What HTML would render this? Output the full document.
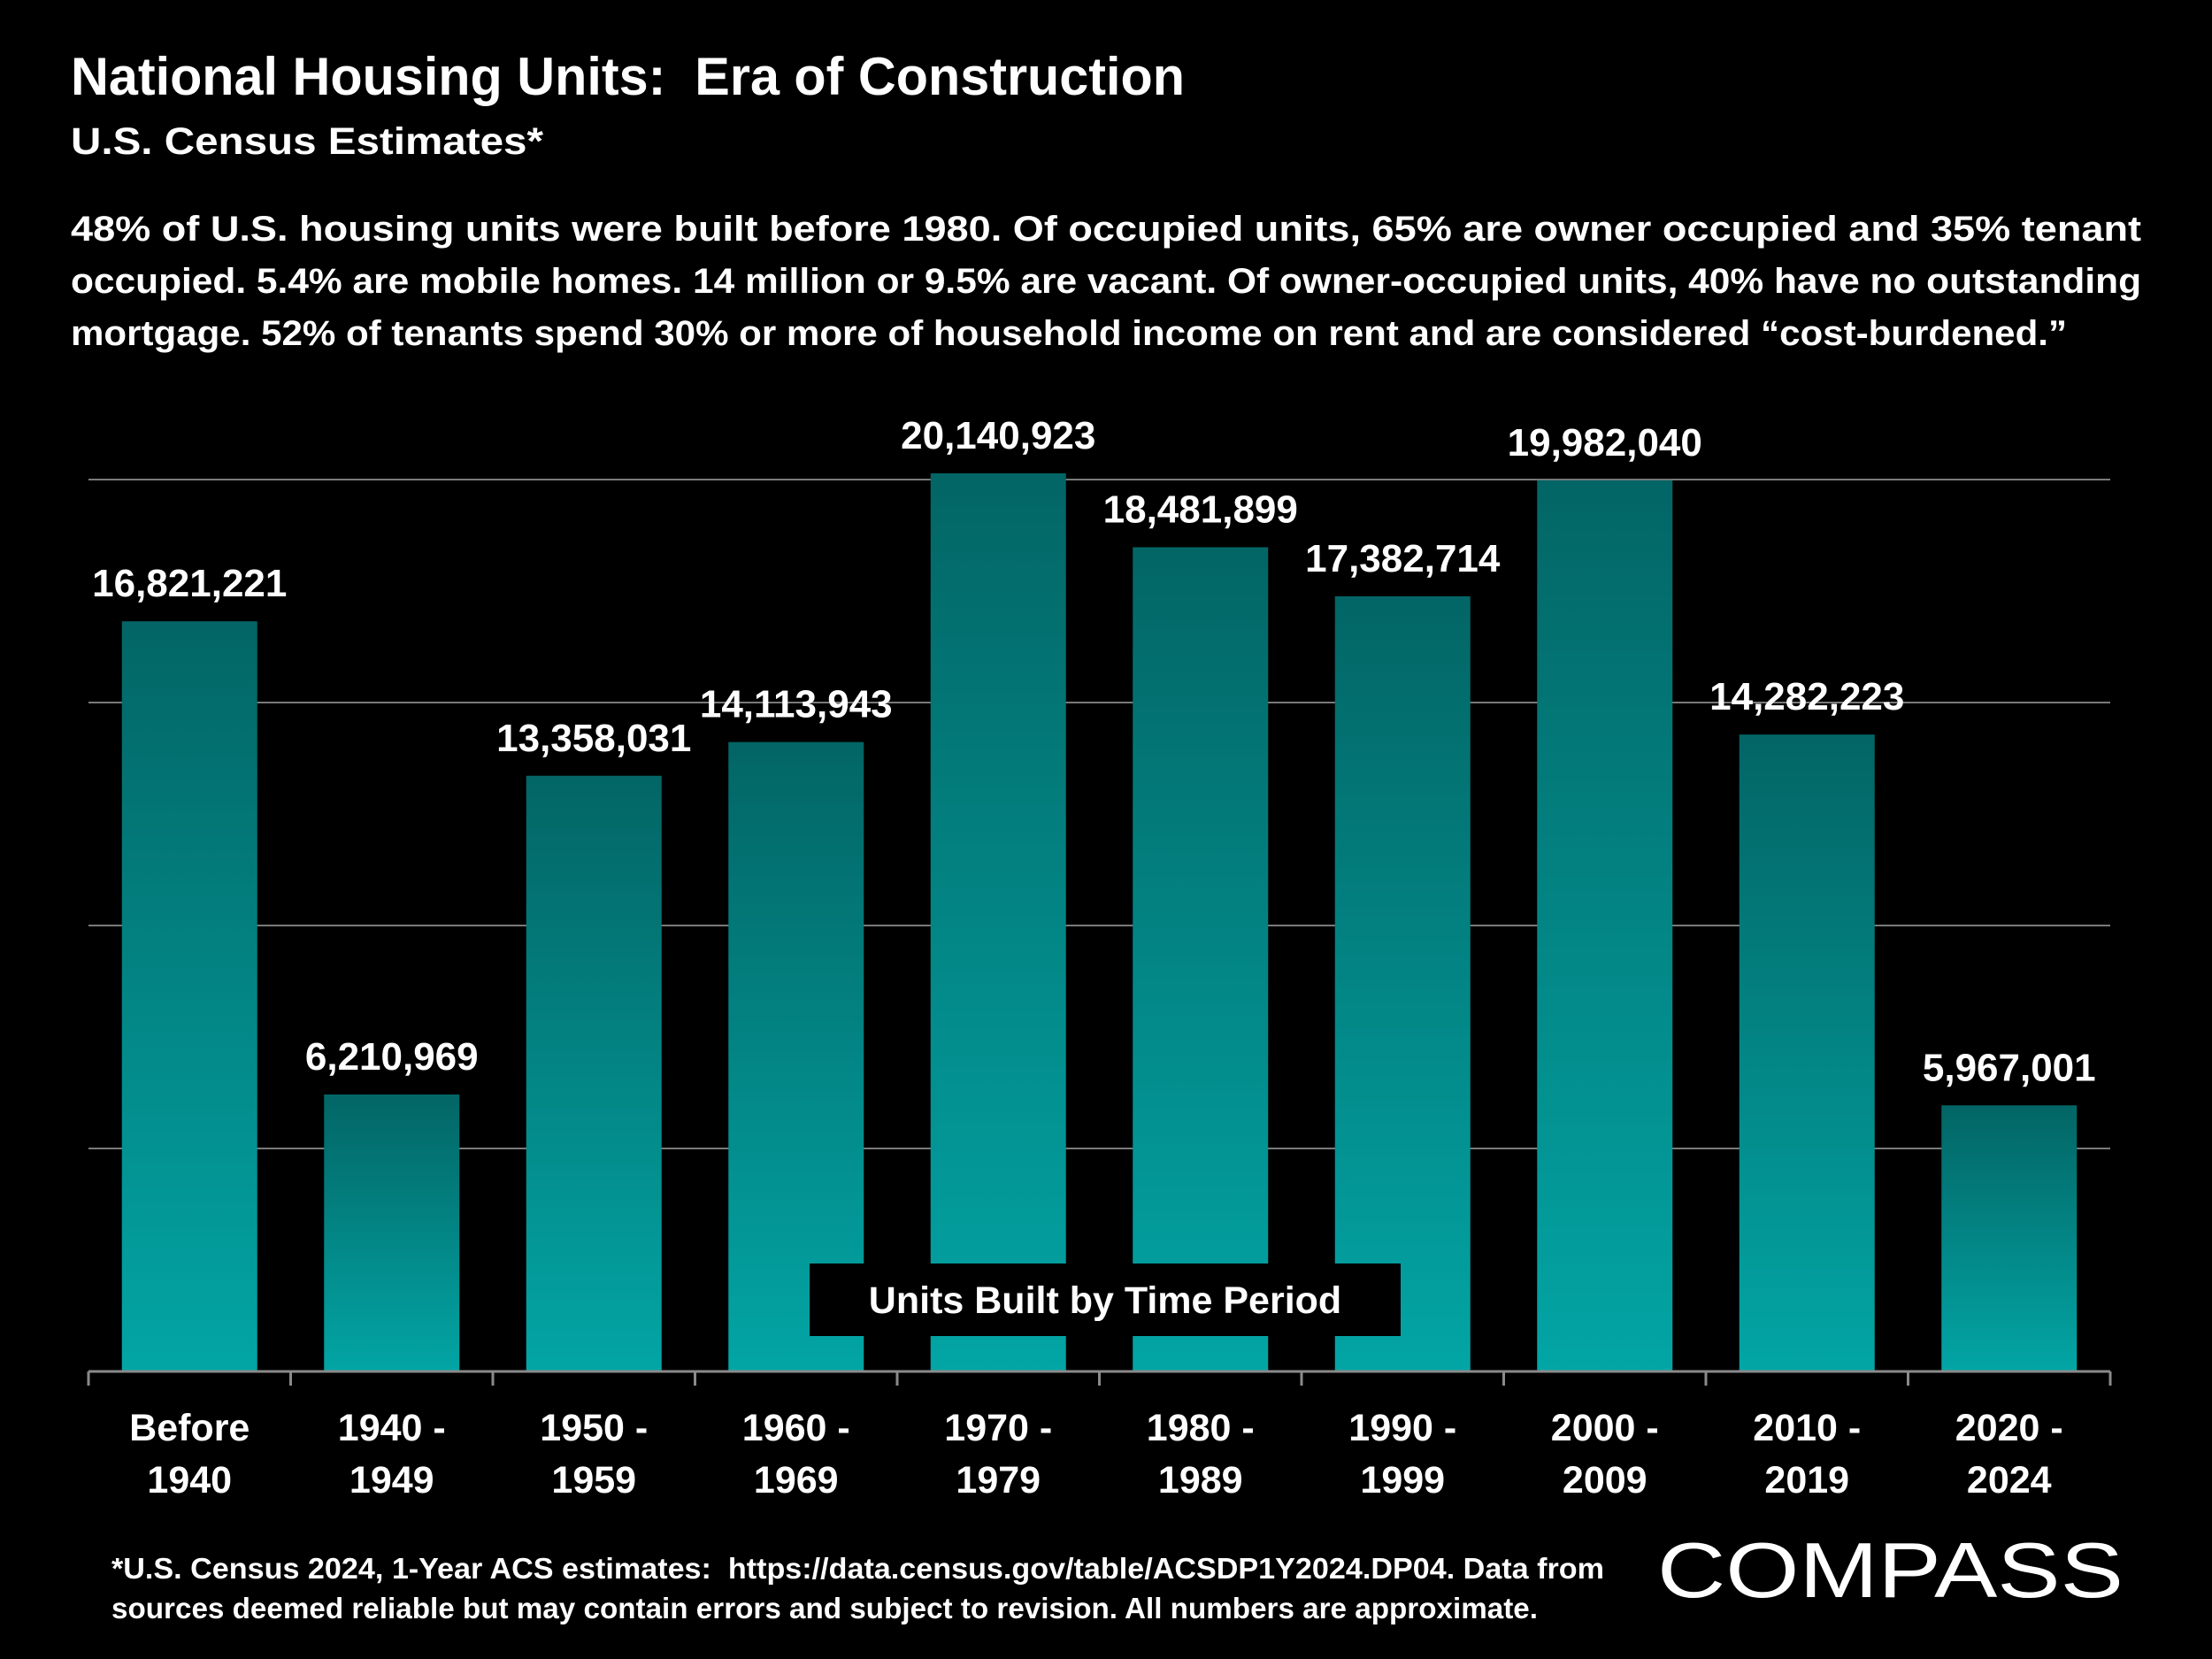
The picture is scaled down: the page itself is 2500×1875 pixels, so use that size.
<!DOCTYPE html>
<html><head><meta charset="utf-8"><style>
html,body{margin:0;padding:0;background:#000;}
svg{display:block;font-family:"Liberation Sans",sans-serif;font-weight:bold;}
</style></head><body>
<svg id="chart" width="2500" height="1875" viewBox="0 0 2500 1875" xmlns="http://www.w3.org/2000/svg">
<defs><linearGradient id="barGrad" x1="0" y1="0" x2="0" y2="1"><stop offset="0" stop-color="#036565"/><stop offset="1" stop-color="#03a5a5"/></linearGradient></defs>
<rect width="2500" height="1875" fill="#000"/>
<text x="80" y="107" fill="#fff" font-size="60" textLength="1259" lengthAdjust="spacingAndGlyphs">National Housing Units:&#160; Era of Construction</text>
<text x="80" y="174" fill="#fff" font-size="43" textLength="534" lengthAdjust="spacingAndGlyphs">U.S. Census Estimates*</text>
<g fill="#fff" font-size="40">
<text x="80" y="272" textLength="2340" lengthAdjust="spacingAndGlyphs">48% of U.S. housing units were built before 1980. Of occupied units, 65% are owner occupied and 35% tenant</text>
<text x="80" y="331" textLength="2340" lengthAdjust="spacingAndGlyphs">occupied. 5.4% are mobile homes. 14 million or 9.5% are vacant. Of owner-occupied units, 40% have no outstanding</text>
<text x="80" y="390" textLength="2256" lengthAdjust="spacingAndGlyphs">mortgage. 52% of tenants spend 30% or more of household income on rent and are considered “cost-burdened.”</text>
</g>
<g id="grid"></g>
<g id="bars"></g>
<g id="labels"></g>
<g id="axis"></g>
<rect x="915" y="1428" width="668" height="82" fill="#000"/>
<text x="1249" y="1484" fill="#fff" font-size="43" text-anchor="middle">Units Built by Time Period</text>
<g fill="#fff" font-size="33">
<text x="126" y="1784" textLength="1687" lengthAdjust="spacingAndGlyphs">*U.S. Census 2024, 1-Year ACS estimates:&#160; https://data.census.gov/table/ACSDP1Y2024.DP04. Data from</text>
<text x="126" y="1829" textLength="1612" lengthAdjust="spacingAndGlyphs">sources deemed reliable but may contain errors and subject to revision. All numbers are approximate.</text>
</g>
<text x="1873" y="1805" fill="#fff" font-size="88" font-weight="normal" textLength="527" lengthAdjust="spacingAndGlyphs">COMPASS</text>
</svg>
<script>
const categoriesLine1 = ["Before","1940 -","1950 -","1960 -","1970 -","1980 -","1990 -","2000 -","2010 -","2020 -"];
const categoriesLine2 = ["1940","1949","1959","1969","1979","1989","1999","2009","2019","2024"];
const unitValues = [16821221,6210969,13358031,14113943,20140923,18481899,17382714,19982040,14282223,5967001];
const gridTicks = [5000000,10000000,15000000,20000000];

const NS="http://www.w3.org/2000/svg";
const x0=100,x1=2385,yBase=1550,yMax=20000000,yTop=542;
const band=(x1-x0)/categoriesLine1.length, barW=153;
const yScale=v=>yBase-(v/yMax)*(yBase-yTop);
const xCenter=i=>x0+band*(i+0.5);
function mk(tag,attrs,parent){const e=document.createElementNS(NS,tag);for(const k in attrs)e.setAttribute(k,attrs[k]);parent.appendChild(e);return e;}
const fmt=v=>v.toLocaleString('en-US');

const grid=document.getElementById('grid');
gridTicks.forEach(t=>{
  const l=mk('line',{x1:x0,x2:x1,y1:yScale(t),y2:yScale(t),stroke:'#7a7a7a','stroke-width':2},grid);
  
  
});
const bars=document.getElementById('bars'),labels=document.getElementById('labels'),axis=document.getElementById('axis');
unitValues.forEach((v,i)=>{
  const cx=xCenter(i),y=yScale(v);
  const r=mk('rect',{x:cx-barW/2,y:y,width:barW,height:yBase-y,fill:'url(#barGrad)'},bars);
  
  
  const t=mk('text',{x:cx,y:y-28,fill:'#fff','font-size':44,'text-anchor':'middle'},labels);
  t.textContent=fmt(v);
  
  
  const c=mk('text',{x:cx,fill:'#fff','font-size':43,'text-anchor':'middle'},axis);
  
  
  const a=mk('tspan',{x:cx,y:1628},c);a.textContent=categoriesLine1[i];
  const b=mk('tspan',{x:cx,y:1687},c);b.textContent=categoriesLine2[i];
});
const base=mk('line',{x1:x0,x2:x1,y1:yBase,y2:yBase,stroke:'#8a8a8a','stroke-width':3},axis);


for(let i=0;i<=categoriesLine1.length;i++){
  const tk=mk('line',{x1:x0+band*i,x2:x0+band*i,y1:yBase,y2:yBase+16,stroke:'#8a8a8a','stroke-width':3},axis);
  
  
}
</script>
</body></html>
